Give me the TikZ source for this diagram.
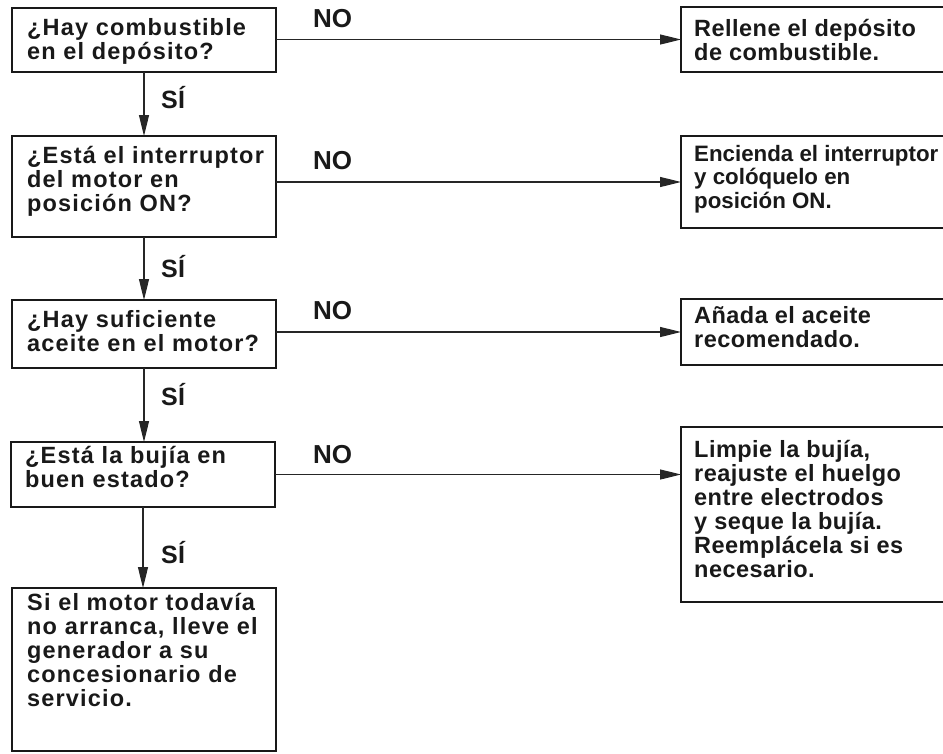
\documentclass[tikz,border=0pt]{standalone}
\usepackage{fontspec}
\setmainfont{Liberation Sans}[LetterSpace=5]
\usetikzlibrary{arrows.meta}
\begin{document}
\begin{tikzpicture}[x=1pt,y=-1pt,
  box/.style={draw=black!90, line width=2.8pt, minimum width=264pt, inner sep=0pt, outer sep=0pt},
  rbox/.style={box, minimum width=279pt},
  txt/.style={anchor=base west, inner sep=0pt, align=left, text=black!90,
     font=\bfseries\fontsize{23.5}{24}\selectfont},
  rtxt/.style={txt, font=\bfseries\fontsize{23.5}{24}\selectfont\addfontfeature{LetterSpace=2}},
  lab/.style={anchor=base west, inner sep=0pt, text=black!90,
     font=\bfseries\fontsize{25}{25}\selectfont\addfontfeature{LetterSpace=1}},
  nolab/.style={lab, font=\bfseries\fontsize{26}{26}\selectfont\addfontfeature{LetterSpace=0}},
  flow/.style={draw=black!85, line width=1.2pt, -{Triangle[length=21pt,width=10pt]}}]
\clip (0,0) rectangle (943,753);
\fill[white] (0,0) rectangle (943,753);
% left column boxes
\node[box, minimum height=64pt]  (L1) at (144,40) {};
\node[box, minimum height=101pt] (L2) at (144,186.5) {};
\node[box, minimum height=68pt]  (L3) at (144,334) {};
\node[box, minimum height=65pt]  (L4) at (143,474.5) {};
\node[box, minimum height=163pt] (L5) at (144,669.5) {};
% right column boxes
\node[rbox, minimum height=65pt]  (R1) at (820.5,39.5) {};
\node[rbox, minimum height=92pt]  (R2) at (820.5,182) {};
\node[rbox, minimum height=66pt]  (R3) at (820.5,332) {};
\node[rbox, minimum height=175pt] (R4) at (820.5,514.5) {};
% texts (anchor at the baseline of the last line)
\node[txt] (T1) at (27,59) {¿Hay combustible\\en el depósito?};
\node[txt] (T2) at (27,211) {¿Está el interruptor\\del motor en\\posición ON?};
\node[txt] (T3) at (27,351) {¿Hay suficiente\\aceite en el motor?};
\node[txt] (T4) at (25,487) {¿Está la bujía en\\buen estado?};
\node[txt] (T5) at (27,706) {Si el motor todavía\\no arranca, lleve el\\generador a su\\concesionario de\\servicio.};
\node[rtxt] (U1) at (694,60) {Rellene el depósito\\de combustible.};
\node[rtxt, font=\bfseries\fontsize{22.3}{23.5}\selectfont\addfontfeature{LetterSpace=0}] (U2) at (694,208) {Encienda el interruptor\\y colóquelo en\\posición ON.};
\node[rtxt] (U3) at (694,347) {Añada el aceite\\recomendado.};
\node[rtxt] (U4) at (694,577) {Limpie la bujía,\\reajuste el huelgo\\entre electrodos\\y seque la bujía.\\Reemplácela si es\\necesario.};
% connectors
\draw[flow] (L1.south) -- (L2.north);
\draw[flow] (L2.south) -- (L3.north);
\draw[flow] (L3.south) -- (L4.north -| L3.south);
\draw[flow] (L4.south) -- (L5.north -| L4.south);
\draw[flow] (L1.east |- R1.west) -- (R1.west);
\draw[flow] (L2.east |- R2.west) -- (R2.west);
\draw[flow] (L3.east |- R3.west) -- (R3.west);
\draw[flow] (L4.east) -- (L4.east -| R4.west);
% labels
\node[lab] (S1) at (161,108) {SÍ};
\node[lab] (S2) at (161,277) {SÍ};
\node[lab] (S3) at (161,405) {SÍ};
\node[lab] (S4) at (161,563) {SÍ};
\node[nolab] (N1) at (313,27) {NO};
\node[nolab] (N2) at (313,169) {NO};
\node[nolab] (N3) at (313,319) {NO};
\node[nolab] (N4) at (313,463) {NO};
\end{tikzpicture}
\end{document}
